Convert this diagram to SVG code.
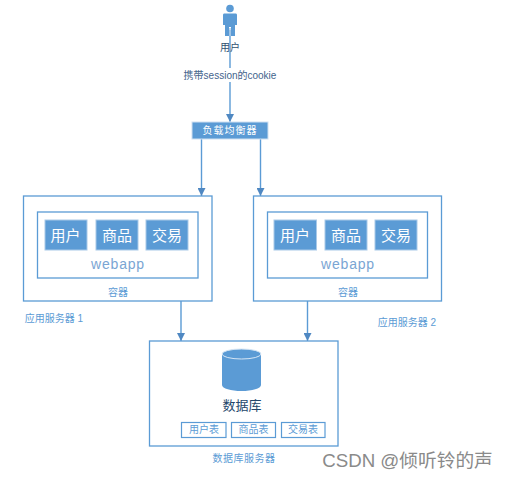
<svg xmlns="http://www.w3.org/2000/svg" width="508" height="481" viewBox="0 0 508 481">
<defs>
<style>
text{font-family:"Liberation Sans","Noto Sans CJK SC",sans-serif;text-anchor:middle}
.o{fill:#fff;stroke:#5b9bd5;stroke-width:1.3}
.b{fill:#5b9bd5;stroke:#a9c9e8;stroke-width:1}
.w{fill:#fff;font-size:15px}
.l{fill:#5b9bd5;font-size:10px}
.a{fill:#7aa5d3;font-size:14px}
.t{fill:#fff;stroke:#5b9bd5;stroke-width:1.2}
.c{fill:none;stroke:#5b9bd5;stroke-width:1.4;marker-end:url(#arrow)}
</style>
<marker id="arrow" markerUnits="userSpaceOnUse" markerWidth="9" markerHeight="8" refX="8" refY="4" orient="auto">
<path d="M0 0L8 4L0 8Z" fill="#4f88c2"/>
</marker>
</defs>
<rect width="508" height="481" fill="#fff"/>
<g id="connectors">
<path class="c" d="M230 30V122"/>
<path class="c" d="M201.500 139V196"/>
<path class="c" d="M260.500 139V196"/>
<path class="c" d="M181 301V341"/>
<path class="c" d="M307.500 301V341"/>
</g>
<g id="user">
<circle cx="230" cy="8.500" r="3.800" fill="#5b9bd5"/>
<path d="M224 13.500H236Q237 13.500 237 15V25H235V36H231V27H229V36H225V25H223V15Q223 13.500 224 13.500Z" fill="#5b9bd5"/>
<path d="M230 28V36" stroke="#a9c9e8" stroke-width="1.400"/>
<text x="230" y="51" font-size="10" fill="#2f5070">用户</text>
</g>
<g id="cookie-label">
<rect x="184" y="68" width="92" height="14" fill="#fff"/>
<text x="230" y="79" font-size="10" fill="#44648c">携带session的cookie</text>
</g>
<g id="balancer">
<rect x="192" y="122" width="76" height="17" fill="#5b9bd5" stroke="#cfe0f1"/>
<text x="230" y="134" font-size="10" fill="#fff" letter-spacing="1">负载均衡器</text>
</g>
<g id="server1">
<rect class="o" x="23.500" y="196" width="188.500" height="105"/>
<rect class="o" x="37.500" y="212" width="160.500" height="66"/>
<rect class="b" x="45" y="220" width="42" height="30"/><text class="w" x="65.500" y="241">用户</text>
<rect class="b" x="96" y="220" width="42" height="30"/><text class="w" x="117" y="241">商品</text>
<rect class="b" x="146" y="220" width="42" height="30"/><text class="w" x="167" y="241">交易</text>
<text class="a" x="118" y="269" letter-spacing=".8">webapp</text>
<text class="l" x="118" y="296">容器</text>
<text class="l" x="54" y="322">应用服务器 1</text>
</g>
<g id="server2">
<rect class="o" x="253.500" y="196" width="188" height="105"/>
<rect class="o" x="267.500" y="212" width="160" height="66"/>
<rect class="b" x="274" y="220" width="42.500" height="30"/><text class="w" x="295" y="241">用户</text>
<rect class="b" x="325" y="220" width="42" height="30"/><text class="w" x="346" y="241">商品</text>
<rect class="b" x="375" y="220" width="42" height="30"/><text class="w" x="396" y="241">交易</text>
<text class="a" x="348" y="269" letter-spacing=".8">webapp</text>
<text class="l" x="348" y="296">容器</text>
<text class="l" x="407" y="326">应用服务器 2</text>
</g>
<g id="database-server">
<rect class="o" x="149.500" y="341" width="188.500" height="105"/>
<path d="M222 354V385C222 388.500 231 391 241.500 391S261 388.500 261 385V354Z" fill="#5b9bd5"/>
<ellipse cx="241.500" cy="354" rx="19.500" ry="5" fill="#5b9bd5" stroke="#d6e6f5"/>
<text x="242" y="410" font-size="13" fill="#24476b">数据库</text>
<rect class="t" x="181.500" y="422.500" width="44.500" height="15"/><text class="l" x="204" y="433">用户表</text>
<rect class="t" x="231.500" y="422.500" width="44" height="15"/><text class="l" x="253.500" y="433">商品表</text>
<rect class="t" x="281.500" y="422.500" width="43.500" height="15"/><text class="l" x="303" y="433">交易表</text>
<text class="l" x="244" y="462" letter-spacing=".5">数据库服务器</text>
</g>
<text x="407.500" y="467" font-size="18.700" fill="#8a8a8a">CSDN @倾听铃的声</text>
</svg>
